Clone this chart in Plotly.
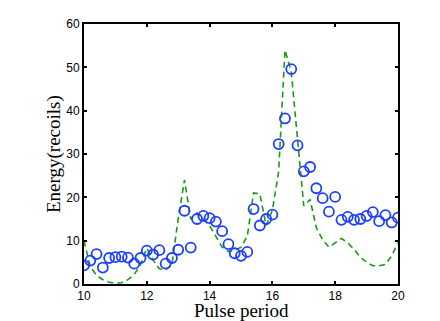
import numpy as np
import plotly.graph_objects as go

# Pulse period grid (0.2 steps from 10 to 20)
pulse = [round(10 + 0.2 * i, 1) for i in range(51)]

# Measured energy (open circles)
energy_meas = [4.3, 5.4, 6.9, 3.8, 6.0, 6.2, 6.3, 6.1, 4.7, 6.0,
               7.7, 6.8, 7.8, 4.7, 6.0, 7.9, 16.9, 8.4, 15.0, 15.7,
               15.2, 14.4, 12.2, 9.2, 7.1, 6.5, 7.4, 17.3, 13.5, 15.0,
               16.0, 32.3, 38.2, 49.6, 32.0, 26.0, 27.0, 22.1, 19.8, 16.7,
               20.1, 14.8, 15.5, 14.8, 15.0, 15.7, 16.6, 14.5, 15.9, 14.2,
               15.3]

# Model energy (dashed line)
energy_model = [10.0, 4.0, 2.0, 1.0, 0.4, 0.2, 0.3, 1.0, 2.2, 4.5,
                8.3, 5.5, 3.5, 3.3, 4.5, 15.0, 24.0, 15.0, 16.4, 15.0,
                13.5, 11.0, 8.5, 7.5, 7.8, 8.5, 11.0, 21.0, 20.8, 13.5,
                17.0, 26.0, 54.0, 49.0, 33.0, 18.0, 19.5, 13.0, 10.2, 8.5,
                9.5, 10.5, 9.5, 8.0, 6.2, 5.0, 4.2, 4.2, 4.5, 6.5,
                9.5]

fig = go.Figure()

fig.add_trace(go.Scatter(
    x=pulse, y=energy_model, mode='lines',
    line=dict(color='#1a9a1a', width=1.6, dash='6px,4px'),
    showlegend=False,
))

fig.add_trace(go.Scatter(
    x=pulse, y=energy_meas, mode='markers',
    marker=dict(symbol='circle-open', size=10, color='#1f3fff',
                line=dict(width=1.8, color='#1f3fff')),
    showlegend=False,
))

axis_common = dict(
    showline=True, linecolor='black', linewidth=2, mirror='ticks',
    ticks='inside', ticklen=3, tickwidth=1.5, tickcolor='black',
    showgrid=False, zeroline=False, automargin=False,
    tickfont=dict(family='Liberation Sans, Arial', size=12, color='black'),
)

fig.update_xaxes(range=[10, 20], dtick=2, **axis_common)
fig.update_yaxes(range=[0, 60], dtick=10, **axis_common)

serif = 'Liberation Serif, serif'

# axis titles placed as annotations for finer position control
fig.add_annotation(text='Pulse period', xref='paper', yref='paper',
                   x=0.5, y=0, xanchor='center', yanchor='top', yshift=-15,
                   borderpad=0, showarrow=False,
                   font=dict(family=serif, size=19, color='black'))
fig.add_annotation(text='Energy(recoils)', xref='paper', yref='paper',
                   x=0, y=0.5, xanchor='center', yanchor='middle', xshift=-30,
                   textangle=-90, showarrow=False,
                   font=dict(family=serif, size=19, color='black'))

fig.update_layout(
    width=440, height=321,
    margin=dict(l=76, r=50, t=16, b=45),
    plot_bgcolor='white', paper_bgcolor='white',
)

fig.write_html("out.html")
